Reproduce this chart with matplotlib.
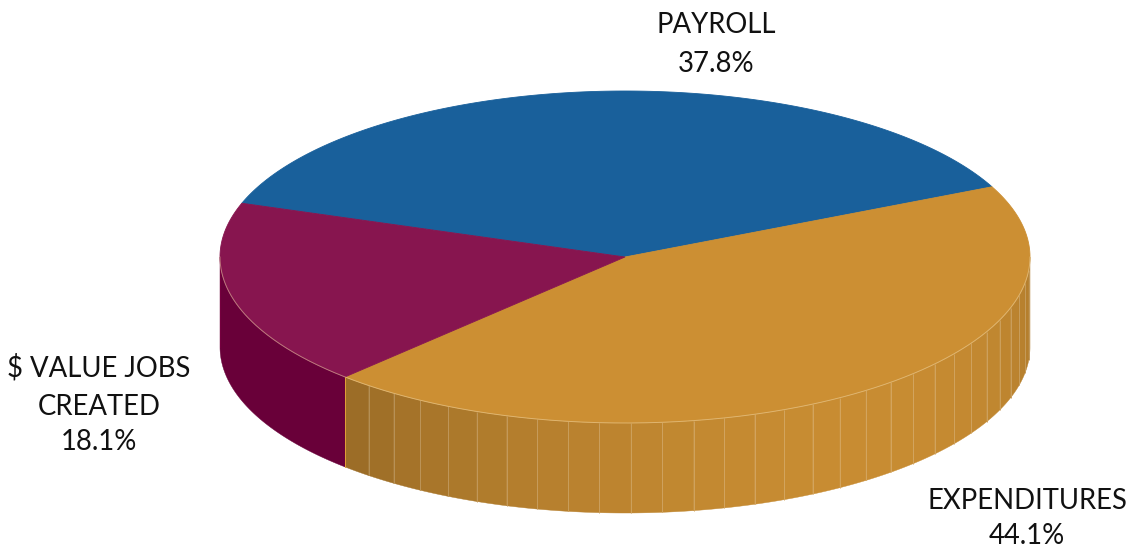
import numpy as np
import matplotlib
matplotlib.use("Agg")
import matplotlib.pyplot as plt
from matplotlib.patches import Polygon
from matplotlib.colors import to_rgb

# ---- data ----
categories = ["PAYROLL", "EXPENDITURES", "$ VALUE JOBS\nCREATED"]
shares = [37.8, 44.1, 18.1]
top_colors = ["#19609B", "#CC8F33", "#87154F"]
side_colors = ["#19609B", "#CC8F33", "#690039"]

# ---- layout (pixel units) ----
W, H = 1129, 552
CX, CY = 625, 257
A, B = 405, 166
DEPTH = 90
START = 161.1           # degrees, slices go clockwise
FACET = 4.6             # facet width in degrees

fig = plt.figure(figsize=(W / 100, H / 100), dpi=100)
ax = fig.add_axes([0, 0, 1, 1])
ax.set_xlim(0, W)
ax.set_ylim(H, 0)
ax.axis("off")


def pt(theta_deg, dy=0.0):
    t = np.radians(theta_deg)
    return CX + A * np.cos(t), CY - B * np.sin(t) + dy


total = sum(shares)
bounds = []
a0 = START
for v in shares:
    a1 = a0 - 360.0 * v / total
    bounds.append((a0, a1))
    a0 = a1


def shade(theta):
    th = ((theta + 180) % 360) - 180
    return 0.70 + 0.28 * np.cos(np.radians(th + 55))


# ---- sides (front half: angles in [-180, 0]) ----
for (s, e), col, name in zip(bounds, side_colors, categories):
    hi, lo = s, e
    for shift in (0, -360, 360):
        h2, l2 = hi + shift, lo + shift
        fh, fl = min(h2, 0.0), max(l2, -180.0)
        if fh > fl:
            base = np.array(to_rgb(col))
            is_maroon = col.upper() == "#690039"
            if is_maroon:
                n = 1
            else:
                n = max(1, int(np.ceil((fh - fl) / FACET)))
            edges = np.linspace(fl, fh, n + 1)
            for t0, t1 in zip(edges[:-1], edges[1:]):
                ts = np.linspace(t0, t1, 60)
                topx, topy = pt(ts)
                botx, boty = pt(ts[::-1], DEPTH)
                poly = np.column_stack([np.r_[topx, botx], np.r_[topy, boty]])
                if is_maroon:
                    c = base
                else:
                    c = base * shade(0.5 * (t0 + t1))
                c = np.clip(c, 0, 1)
                ax.add_patch(Polygon(poly, closed=True, facecolor=c,
                                     edgecolor=c, linewidth=0.3, zorder=1))
                x0, y0 = pt(t0)
                if t0 != fl and not is_maroon:
                    lc = np.clip(c + (1 - c) * 0.22, 0, 1)
                    ax.plot([x0, x0], [y0, y0 + DEPTH], color=lc, lw=0.7,
                            zorder=2, solid_capstyle="butt")
            bx, by = pt(fl)
            ax.plot([bx, bx], [by, by + DEPTH], color=np.clip(base * 1.12, 0, 1),
                    lw=0.7, zorder=2)

# ---- top faces ----
for (s, e), col in zip(bounds, top_colors):
    ts = np.linspace(s, e, 200)
    xs, ys = pt(ts)
    poly = np.column_stack([np.r_[CX, xs], np.r_[CY, ys]])
    ax.add_patch(Polygon(poly, closed=True, facecolor=col, edgecolor=col,
                         linewidth=0.6, zorder=3))

# light rim line along front of top
ts = np.linspace(-180, 0, 400)
rx, ry = pt(ts)
ax.plot(rx, ry, color="#F2D9A8", lw=0.7, alpha=0.5, zorder=4)

# ---- labels ----
font = dict(family=["Lato", "DejaVu Sans"], fontsize=19.8, color="#111111",
            ha="center", va="baseline", zorder=5)
label_pos = [(716, [33, 72]), (1027, [509, 544]), (99, [377, 415, 450])]
for name, v, (x, ys_) in zip(categories, shares, label_pos):
    lines = name.split("\n") + [f"{v:.1f}%"]
    for line, y in zip(lines, ys_):
        ax.text(x, y, line, **font)

fig.savefig("out.png", dpi=100)
